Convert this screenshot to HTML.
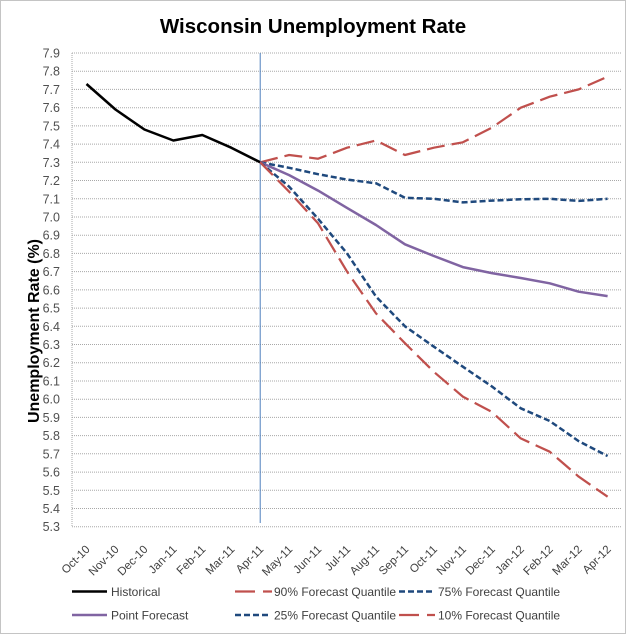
<!DOCTYPE html>
<html><head><meta charset="utf-8"><style>
html,body{margin:0;padding:0;background:#fff;}
svg{display:block;}
</style></head><body>
<svg width="626" height="634" viewBox="0 0 626 634" xmlns="http://www.w3.org/2000/svg" font-family="'Liberation Sans', sans-serif">
<rect x="0.5" y="0.5" width="625" height="633" fill="#fff" stroke="#888" stroke-width="1" stroke-dasharray="1 1"/>
<text x="313" y="33" text-anchor="middle" font-size="20.5" font-weight="bold" fill="#000">Wisconsin Unemployment Rate</text>
<g stroke="#a8a8a8" stroke-width="1" stroke-dasharray="1 1">
<line x1="72" x2="622" y1="53.0" y2="53.0"/><line x1="72" x2="622" y1="71.2" y2="71.2"/><line x1="72" x2="622" y1="89.4" y2="89.4"/><line x1="72" x2="622" y1="107.7" y2="107.7"/><line x1="72" x2="622" y1="125.9" y2="125.9"/><line x1="72" x2="622" y1="144.1" y2="144.1"/><line x1="72" x2="622" y1="162.3" y2="162.3"/><line x1="72" x2="622" y1="180.5" y2="180.5"/><line x1="72" x2="622" y1="198.8" y2="198.8"/><line x1="72" x2="622" y1="217.0" y2="217.0"/><line x1="72" x2="622" y1="235.2" y2="235.2"/><line x1="72" x2="622" y1="253.4" y2="253.4"/><line x1="72" x2="622" y1="271.6" y2="271.6"/><line x1="72" x2="622" y1="289.9" y2="289.9"/><line x1="72" x2="622" y1="308.1" y2="308.1"/><line x1="72" x2="622" y1="326.3" y2="326.3"/><line x1="72" x2="622" y1="344.5" y2="344.5"/><line x1="72" x2="622" y1="362.7" y2="362.7"/><line x1="72" x2="622" y1="381.0" y2="381.0"/><line x1="72" x2="622" y1="399.2" y2="399.2"/><line x1="72" x2="622" y1="417.4" y2="417.4"/><line x1="72" x2="622" y1="435.6" y2="435.6"/><line x1="72" x2="622" y1="453.8" y2="453.8"/><line x1="72" x2="622" y1="472.1" y2="472.1"/><line x1="72" x2="622" y1="490.3" y2="490.3"/><line x1="72" x2="622" y1="508.5" y2="508.5"/><line x1="72" x2="622" y1="526.7" y2="526.7"/>
<line x1="72" x2="72" y1="53" y2="527"/>
</g>
<g font-size="12.5" fill="#505050" text-anchor="end">
<text x="60" y="57.5">7.9</text><text x="60" y="75.7">7.8</text><text x="60" y="93.9">7.7</text><text x="60" y="112.2">7.6</text><text x="60" y="130.4">7.5</text><text x="60" y="148.6">7.4</text><text x="60" y="166.8">7.3</text><text x="60" y="185.0">7.2</text><text x="60" y="203.3">7.1</text><text x="60" y="221.5">7.0</text><text x="60" y="239.7">6.9</text><text x="60" y="257.9">6.8</text><text x="60" y="276.1">6.7</text><text x="60" y="294.4">6.6</text><text x="60" y="312.6">6.5</text><text x="60" y="330.8">6.4</text><text x="60" y="349.0">6.3</text><text x="60" y="367.2">6.2</text><text x="60" y="385.5">6.1</text><text x="60" y="403.7">6.0</text><text x="60" y="421.9">5.9</text><text x="60" y="440.1">5.8</text><text x="60" y="458.3">5.7</text><text x="60" y="476.6">5.6</text><text x="60" y="494.8">5.5</text><text x="60" y="513.0">5.4</text><text x="60" y="531.2">5.3</text>
</g>
<text transform="translate(39,331) rotate(-90)" text-anchor="middle" font-size="16" font-weight="bold" fill="#000">Unemployment Rate (%)</text>
<g font-size="11.5" fill="#404040" text-anchor="end">
<text transform="translate(90.5,550) rotate(-45)">Oct-10</text>
<text transform="translate(119.5,550) rotate(-45)">Nov-10</text>
<text transform="translate(148.4,550) rotate(-45)">Dec-10</text>
<text transform="translate(177.4,550) rotate(-45)">Jan-11</text>
<text transform="translate(206.3,550) rotate(-45)">Feb-11</text>
<text transform="translate(235.3,550) rotate(-45)">Mar-11</text>
<text transform="translate(264.2,550) rotate(-45)">Apr-11</text>
<text transform="translate(293.2,550) rotate(-45)">May-11</text>
<text transform="translate(322.1,550) rotate(-45)">Jun-11</text>
<text transform="translate(351.1,550) rotate(-45)">Jul-11</text>
<text transform="translate(380.0,550) rotate(-45)">Aug-11</text>
<text transform="translate(409.0,550) rotate(-45)">Sep-11</text>
<text transform="translate(437.9,550) rotate(-45)">Oct-11</text>
<text transform="translate(466.9,550) rotate(-45)">Nov-11</text>
<text transform="translate(495.8,550) rotate(-45)">Dec-11</text>
<text transform="translate(524.8,550) rotate(-45)">Jan-12</text>
<text transform="translate(553.7,550) rotate(-45)">Feb-12</text>
<text transform="translate(582.7,550) rotate(-45)">Mar-12</text>
<text transform="translate(611.6,550) rotate(-45)">Apr-12</text>
</g>
<line x1="260.2" x2="260.2" y1="53" y2="523" stroke="#4f81bd" stroke-width="1"/>
<g fill="none" stroke-linejoin="round">
<polyline stroke="#000" stroke-width="2.5" points="86.5,84.0 115.45,109.5 144.4,129.5 173.35,140.5 202.3,135.0 231.25,147.7 260.2,162.3"/>
<polyline stroke="#C0504D" stroke-width="2.25" stroke-dasharray="18 7" points="260.2,162.3 289.15,155.0 318.1,158.7 347.05,147.7 376.0,140.5 404.95,155.0 433.9,147.7 462.85,142.3 491.8,127.7 520.75,107.7 549.7,96.7 578.65,89.4 607.6,76.7"/>
<polyline stroke="#1F497D" stroke-width="2.5" stroke-dasharray="6 3" points="260.2,162.3 289.15,167.8 318.1,174.2 347.05,179.6 376.0,183.3 404.95,197.8 433.9,198.8 462.85,202.4 491.8,200.6 520.75,199.3 549.7,198.8 578.65,200.9 607.6,198.8"/>
<polyline stroke="#8064A2" stroke-width="2.5" points="260.2,162.3 289.15,175.1 318.1,190.6 347.05,207.9 376.0,225.0 404.95,244.3 433.9,256.0 462.85,267.1 491.8,273.1 520.75,278.0 549.7,283.3 578.65,291.7 607.6,296.1"/>
<polyline stroke="#1F497D" stroke-width="2.5" stroke-dasharray="6 3" points="260.2,162.3 289.15,186.7 318.1,218.8 347.05,253.4 376.0,296.6 404.95,326.3 433.9,346.7 462.85,366.7 491.8,386.4 520.75,408.3 549.7,421.0 578.65,441.1 607.6,456.0"/>
<polyline stroke="#C0504D" stroke-width="2.25" stroke-dasharray="18 7" points="260.2,162.3 289.15,191.7 318.1,223.4 347.05,271.6 376.0,313.4 404.95,343.2 433.9,371.9 462.85,396.6 491.8,411.9 520.75,438.4 549.7,451.7 578.65,476.6 607.6,496.7"/>
</g>
<g fill="none">
<line x1="72" x2="107" y1="591.5" y2="591.5" stroke="#000" stroke-width="2.5"/>
<line x1="235" x2="272" y1="591.5" y2="591.5" stroke="#C0504D" stroke-width="2.25" stroke-dasharray="20 8"/>
<line x1="399" x2="435" y1="591.5" y2="591.5" stroke="#1F497D" stroke-width="2.5" stroke-dasharray="6 3"/>
<line x1="72" x2="107" y1="615" y2="615" stroke="#8064A2" stroke-width="2.5"/>
<line x1="235" x2="271" y1="615" y2="615" stroke="#1F497D" stroke-width="2.5" stroke-dasharray="6 3"/>
<line x1="399" x2="435" y1="615" y2="615" stroke="#C0504D" stroke-width="2.25" stroke-dasharray="20 8"/>
</g>
<g font-size="12" fill="#404040">
<text x="111" y="596">Historical</text>
<text x="274" y="596">90% Forecast Quantile</text>
<text x="438" y="596">75% Forecast Quantile</text>
<text x="111" y="619.5">Point Forecast</text>
<text x="274" y="619.5">25% Forecast Quantile</text>
<text x="438" y="619.5">10% Forecast Quantile</text>
</g>
</svg>
</body></html>
